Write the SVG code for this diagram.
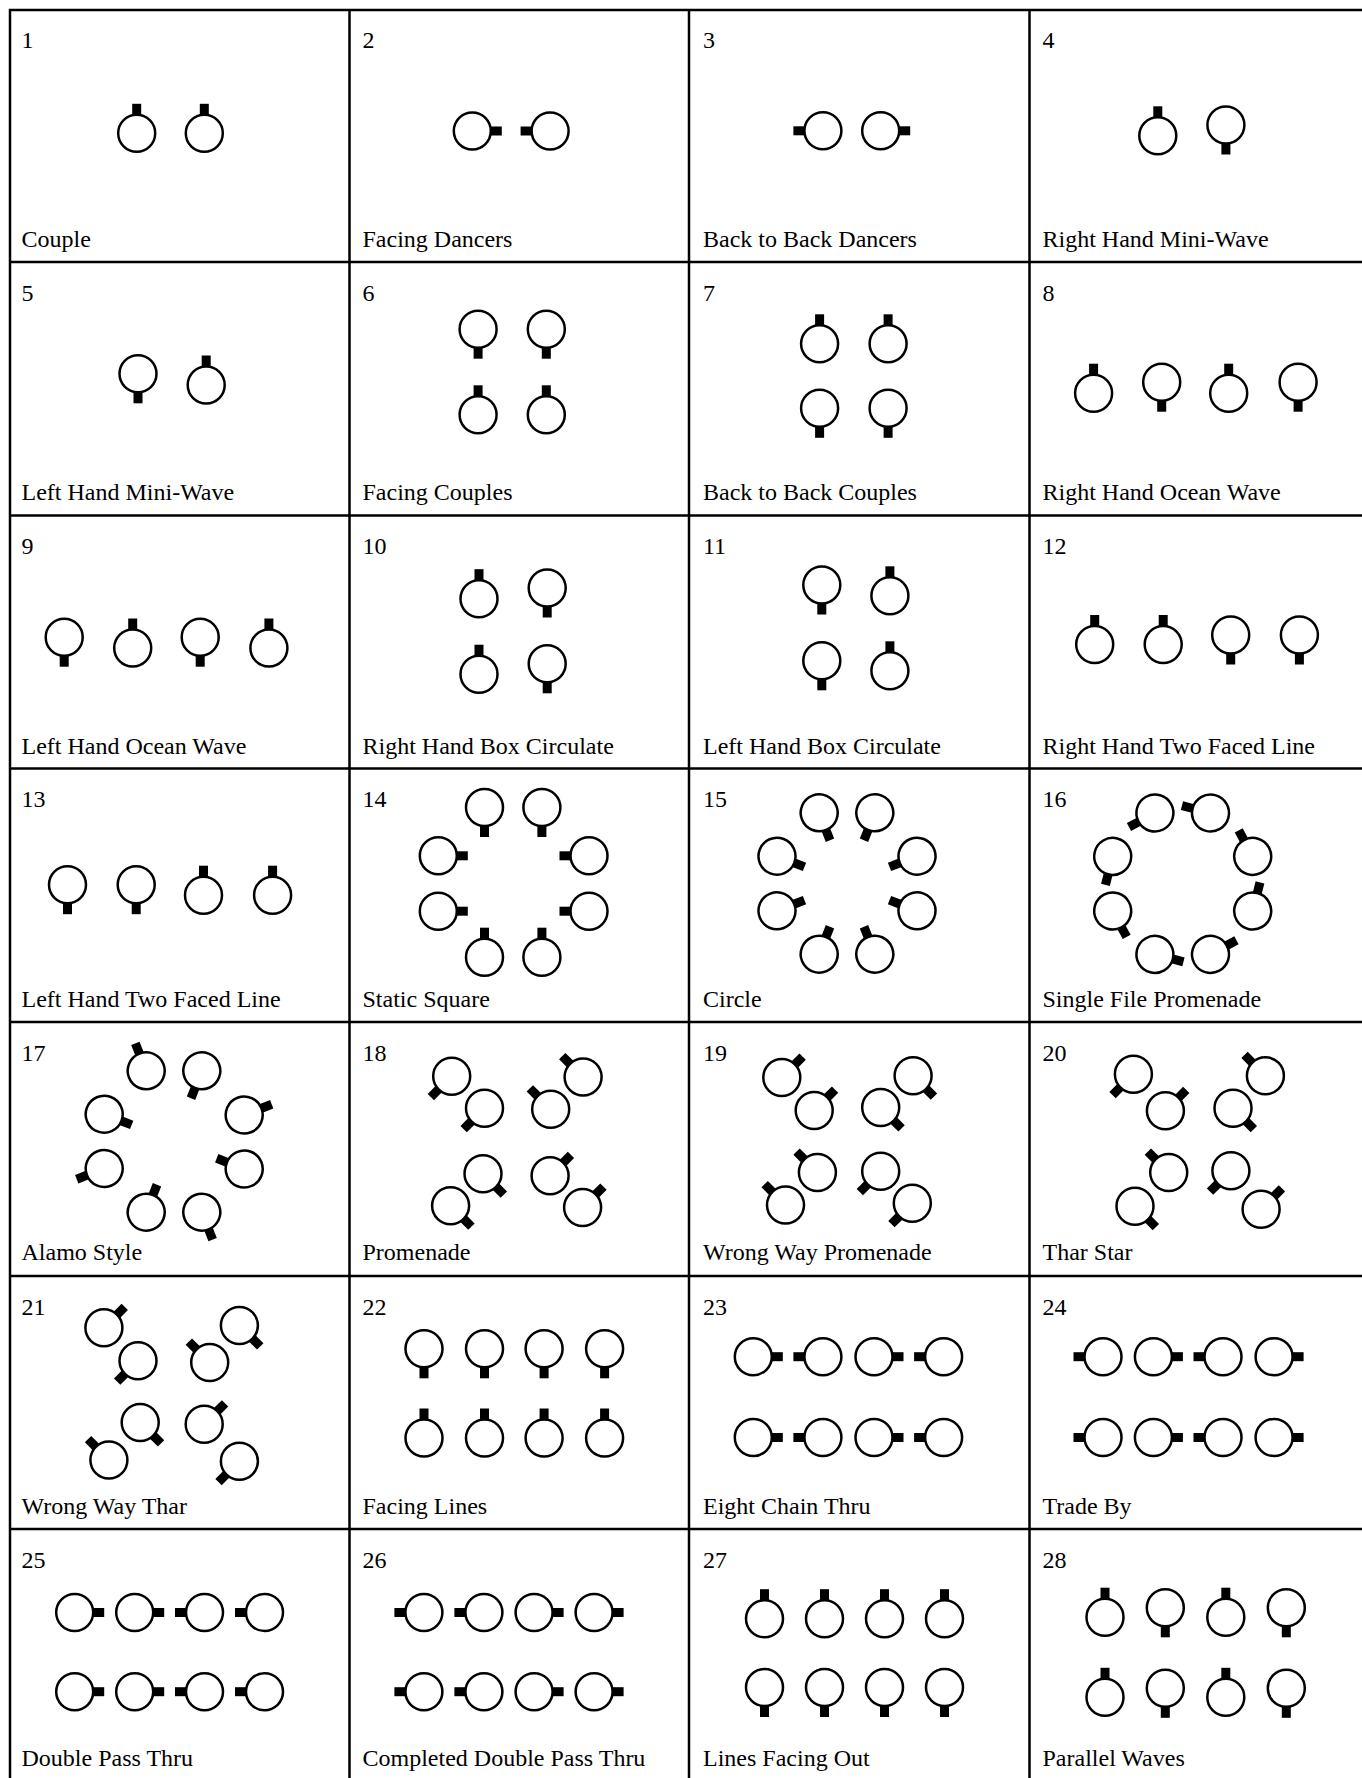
<svg xmlns="http://www.w3.org/2000/svg" width="1362" height="1778" viewBox="0 0 1362 1778">
<style>
text{font-family:"Liberation Serif","Times New Roman",serif;font-size:24px;fill:#000}
.grid{fill:none;stroke:#000;stroke-width:2.5}
</style>
<defs>
<g id="dn"><rect x="-4.5" y="-29.5" width="9" height="11.5" fill="#000"/><circle r="18.5" fill="none" stroke="#000" stroke-width="2.5"/></g>
</defs>
<rect width="1362" height="1778" fill="#fff"/>
<g id="connectors" class="grid">
<path d="M8.75 10H1362M8.75 262H1362M8.75 515.5H1362M8.75 768.5H1362M8.75 1022H1362M8.75 1276H1362M8.75 1529H1362M10 8.75V1778M349.5 8.75V1778M689 8.75V1778M1029.5 8.75V1778"/>
</g>
<g id="cell1"><text x="21.5" y="48">1</text><text x="21.5" y="247">Couple</text>
<use href="#dn" transform="translate(136.7 133.3)"/><use href="#dn" transform="translate(204.3 133.3)"/></g>
<g id="cell2"><text x="362.5" y="48">2</text><text x="362.5" y="247">Facing Dancers</text>
<use href="#dn" transform="translate(472.3 131) rotate(90)"/><use href="#dn" transform="translate(550.1 131) rotate(-90)"/></g>
<g id="cell3"><text x="703" y="48">3</text><text x="703" y="247">Back to Back Dancers</text>
<use href="#dn" transform="translate(822.9 130.8) rotate(-90)"/><use href="#dn" transform="translate(880.7 130.8) rotate(90)"/></g>
<g id="cell4"><text x="1042.5" y="48">4</text><text x="1042.5" y="247">Right Hand Mini-Wave</text>
<use href="#dn" transform="translate(1157.8 135.8)"/><use href="#dn" transform="translate(1225.9 125) rotate(180)"/></g>
<g id="cell5"><text x="21.5" y="300.5">5</text><text x="21.5" y="500">Left Hand Mini-Wave</text>
<use href="#dn" transform="translate(138 373.8) rotate(180)"/><use href="#dn" transform="translate(206.2 385)"/></g>
<g id="cell6"><text x="362.5" y="300.5">6</text><text x="362.5" y="500">Facing Couples</text>
<use href="#dn" transform="translate(478.1 329.2) rotate(180)"/><use href="#dn" transform="translate(546.3 329.2) rotate(180)"/><use href="#dn" transform="translate(478.1 414.8)"/><use href="#dn" transform="translate(546.3 414.8)"/></g>
<g id="cell7"><text x="703" y="300.5">7</text><text x="703" y="500">Back to Back Couples</text>
<use href="#dn" transform="translate(819.6 343.8)"/><use href="#dn" transform="translate(888.1 343.8)"/><use href="#dn" transform="translate(819.6 408.3) rotate(180)"/><use href="#dn" transform="translate(888.1 408.3) rotate(180)"/></g>
<g id="cell8"><text x="1042.5" y="300.5">8</text><text x="1042.5" y="500">Right Hand Ocean Wave</text>
<use href="#dn" transform="translate(1093.6 393.2)"/><use href="#dn" transform="translate(1161.7 382.2) rotate(180)"/><use href="#dn" transform="translate(1228.7 393.2)"/><use href="#dn" transform="translate(1298.1 382.2) rotate(180)"/></g>
<g id="cell9"><text x="21.5" y="554">9</text><text x="21.5" y="753.5">Left Hand Ocean Wave</text>
<use href="#dn" transform="translate(64.2 637.2) rotate(180)"/><use href="#dn" transform="translate(132.7 648)"/><use href="#dn" transform="translate(200.2 637.2) rotate(180)"/><use href="#dn" transform="translate(268.9 648)"/></g>
<g id="cell10"><text x="362.5" y="554">10</text><text x="362.5" y="753.5">Right Hand Box Circulate</text>
<use href="#dn" transform="translate(479 598.7)"/><use href="#dn" transform="translate(547.2 588) rotate(180)"/><use href="#dn" transform="translate(479 674.2)"/><use href="#dn" transform="translate(547.2 663.8) rotate(180)"/></g>
<g id="cell11"><text x="703" y="554">11</text><text x="703" y="753.5">Left Hand Box Circulate</text>
<use href="#dn" transform="translate(821.8 585) rotate(180)"/><use href="#dn" transform="translate(889.9 595.8)"/><use href="#dn" transform="translate(821.8 660.8) rotate(180)"/><use href="#dn" transform="translate(889.9 670.8)"/></g>
<g id="cell12"><text x="1042.5" y="554">12</text><text x="1042.5" y="753.5">Right Hand Two Faced Line</text>
<use href="#dn" transform="translate(1094.7 644.5)"/><use href="#dn" transform="translate(1163.2 644.5)"/><use href="#dn" transform="translate(1230.7 635) rotate(180)"/><use href="#dn" transform="translate(1299.4 635) rotate(180)"/></g>
<g id="cell13"><text x="21.5" y="807">13</text><text x="21.5" y="1006.5">Left Hand Two Faced Line</text>
<use href="#dn" transform="translate(67.5 884.7) rotate(180)"/><use href="#dn" transform="translate(136.2 884.7) rotate(180)"/><use href="#dn" transform="translate(203.5 895.2)"/><use href="#dn" transform="translate(272.6 895.2)"/></g>
<g id="cell14"><text x="362.5" y="807">14</text><text x="362.5" y="1006.5">Static Square</text>
<use href="#dn" transform="translate(484.5 807.5) rotate(180)"/><use href="#dn" transform="translate(541.9 807.5) rotate(180)"/>
<use href="#dn" transform="translate(438.3 855.8) rotate(90)"/><use href="#dn" transform="translate(438.3 911.2) rotate(90)"/>
<use href="#dn" transform="translate(589 855.8) rotate(-90)"/><use href="#dn" transform="translate(589 911.2) rotate(-90)"/>
<use href="#dn" transform="translate(484.5 957.2)"/><use href="#dn" transform="translate(541.9 957.2)"/></g>
<g id="cell15"><text x="703" y="807">15</text><text x="703" y="1006.5">Circle</text>
<use href="#dn" transform="translate(819.2 812.8) rotate(158.5)"/><use href="#dn" transform="translate(874.8 812.8) rotate(201.5)"/>
<use href="#dn" transform="translate(917 856.2) rotate(248.7)"/><use href="#dn" transform="translate(917 910.8) rotate(-68.7)"/>
<use href="#dn" transform="translate(874.8 954.2) rotate(-21.5)"/><use href="#dn" transform="translate(819.2 954.2) rotate(21.5)"/>
<use href="#dn" transform="translate(777 910.8) rotate(68.7)"/><use href="#dn" transform="translate(777 856.2) rotate(111.3)"/></g>
<g id="cell16"><text x="1042.5" y="807">16</text><text x="1042.5" y="1006.5">Single File Promenade</text>
<use href="#dn" transform="translate(1154.9 813) rotate(-118.5)"/><use href="#dn" transform="translate(1210.5 813) rotate(-75.5)"/>
<use href="#dn" transform="translate(1252.7 856.4) rotate(-28.3)"/><use href="#dn" transform="translate(1252.7 911) rotate(14.3)"/>
<use href="#dn" transform="translate(1210.5 954.4) rotate(61.5)"/><use href="#dn" transform="translate(1154.9 954.4) rotate(104.5)"/>
<use href="#dn" transform="translate(1112.7 911) rotate(151.7)"/><use href="#dn" transform="translate(1112.7 856.4) rotate(-165.7)"/></g>
<g id="cell17"><text x="21.5" y="1060.5">17</text><text x="21.5" y="1260">Alamo Style</text>
<use href="#dn" transform="translate(146.2 1070.8) rotate(-21.5)"/><use href="#dn" transform="translate(201.8 1070.8) rotate(201.5)"/>
<use href="#dn" transform="translate(244.2 1115) rotate(68.7)"/><use href="#dn" transform="translate(244.2 1169) rotate(291.3)"/>
<use href="#dn" transform="translate(201.8 1212.2) rotate(158.5)"/><use href="#dn" transform="translate(146.2 1212.2) rotate(21.5)"/>
<use href="#dn" transform="translate(104.2 1168.5) rotate(248.7)"/><use href="#dn" transform="translate(104.2 1114.2) rotate(111.3)"/></g>
<g id="cell18"><text x="362.5" y="1060.5">18</text><text x="362.5" y="1260">Promenade</text>
<use href="#dn" transform="translate(451.7 1076.2) rotate(225)"/><use href="#dn" transform="translate(484.5 1108.3) rotate(225)"/>
<use href="#dn" transform="translate(583.1 1077) rotate(315)"/><use href="#dn" transform="translate(550.7 1109.2) rotate(315)"/>
<use href="#dn" transform="translate(483 1173.8) rotate(135)"/><use href="#dn" transform="translate(450.6 1205.8) rotate(135)"/>
<use href="#dn" transform="translate(550.1 1175.8) rotate(45)"/><use href="#dn" transform="translate(582.6 1207.5) rotate(45)"/></g>
<g id="cell19"><text x="703" y="1060.5">19</text><text x="703" y="1260">Wrong Way Promenade</text>
<use href="#dn" transform="translate(781.8 1077.5) rotate(45)"/><use href="#dn" transform="translate(814.2 1110.5) rotate(45)"/>
<use href="#dn" transform="translate(913.1 1075.8) rotate(135)"/><use href="#dn" transform="translate(880.7 1107.5) rotate(135)"/>
<use href="#dn" transform="translate(817.4 1172.5) rotate(315)"/><use href="#dn" transform="translate(785.5 1205) rotate(315)"/>
<use href="#dn" transform="translate(880.7 1171.2) rotate(225)"/><use href="#dn" transform="translate(912.3 1203.3) rotate(225)"/></g>
<g id="cell20"><text x="1042.5" y="1060.5">20</text><text x="1042.5" y="1260">Thar Star</text>
<use href="#dn" transform="translate(1133.4 1074.2) rotate(225)"/><use href="#dn" transform="translate(1165.4 1110.8) rotate(45)"/>
<use href="#dn" transform="translate(1265.4 1075.8) rotate(315)"/><use href="#dn" transform="translate(1233 1108.2) rotate(135)"/>
<use href="#dn" transform="translate(1168.7 1172.5) rotate(315)"/><use href="#dn" transform="translate(1135 1206.2) rotate(135)"/>
<use href="#dn" transform="translate(1230.9 1170.8) rotate(225)"/><use href="#dn" transform="translate(1261.1 1209.2) rotate(45)"/></g>
<g id="cell21"><text x="21.5" y="1314.5">21</text><text x="21.5" y="1513.5">Wrong Way Thar</text>
<use href="#dn" transform="translate(103.9 1327.8) rotate(45)"/><use href="#dn" transform="translate(138 1360.8) rotate(225)"/>
<use href="#dn" transform="translate(239.4 1325.5) rotate(135)"/><use href="#dn" transform="translate(209.7 1362.5) rotate(315)"/>
<use href="#dn" transform="translate(140.2 1422.5) rotate(135)"/><use href="#dn" transform="translate(108.9 1460) rotate(315)"/>
<use href="#dn" transform="translate(204.2 1424.2) rotate(45)"/><use href="#dn" transform="translate(239.4 1461.2) rotate(225)"/></g>
<g id="cell22"><text x="362.5" y="1314.5">22</text><text x="362.5" y="1513.5">Facing Lines</text>
<use href="#dn" transform="translate(424 1348.8) rotate(180)"/><use href="#dn" transform="translate(484.5 1348.8) rotate(180)"/><use href="#dn" transform="translate(544.1 1348.8) rotate(180)"/><use href="#dn" transform="translate(604.6 1348.8) rotate(180)"/>
<use href="#dn" transform="translate(424 1438)"/><use href="#dn" transform="translate(484.5 1438)"/><use href="#dn" transform="translate(544.1 1438)"/><use href="#dn" transform="translate(604.6 1438)"/></g>
<g id="cell23"><text x="703" y="1314.5">23</text><text x="703" y="1513.5">Eight Chain Thru</text>
<use href="#dn" transform="translate(753.3 1356.7) rotate(90)"/><use href="#dn" transform="translate(822.9 1356.7) rotate(-90)"/><use href="#dn" transform="translate(874 1356.7) rotate(90)"/><use href="#dn" transform="translate(943.6 1356.7) rotate(-90)"/>
<use href="#dn" transform="translate(753.3 1437.5) rotate(90)"/><use href="#dn" transform="translate(822.9 1437.5) rotate(-90)"/><use href="#dn" transform="translate(874 1437.5) rotate(90)"/><use href="#dn" transform="translate(943.6 1437.5) rotate(-90)"/></g>
<g id="cell24"><text x="1042.5" y="1314.5">24</text><text x="1042.5" y="1513.5">Trade By</text>
<use href="#dn" transform="translate(1103 1356.7) rotate(-90)"/><use href="#dn" transform="translate(1153.4 1356.7) rotate(90)"/><use href="#dn" transform="translate(1223 1356.7) rotate(-90)"/><use href="#dn" transform="translate(1274.1 1356.7) rotate(90)"/>
<use href="#dn" transform="translate(1103 1437.5) rotate(-90)"/><use href="#dn" transform="translate(1153.4 1437.5) rotate(90)"/><use href="#dn" transform="translate(1223 1437.5) rotate(-90)"/><use href="#dn" transform="translate(1274.1 1437.5) rotate(90)"/></g>
<g id="cell25"><text x="21.5" y="1567.5">25</text><text x="21.5" y="1766">Double Pass Thru</text>
<use href="#dn" transform="translate(74.7 1612.5) rotate(90)"/><use href="#dn" transform="translate(134.7 1612.5) rotate(90)"/><use href="#dn" transform="translate(204.5 1612.5) rotate(-90)"/><use href="#dn" transform="translate(264.5 1612.5) rotate(-90)"/>
<use href="#dn" transform="translate(74.7 1691.7) rotate(90)"/><use href="#dn" transform="translate(134.7 1691.7) rotate(90)"/><use href="#dn" transform="translate(204.5 1691.7) rotate(-90)"/><use href="#dn" transform="translate(264.5 1691.7) rotate(-90)"/></g>
<g id="cell26"><text x="362.5" y="1567.5">26</text><text x="362.5" y="1766">Completed Double Pass Thru</text>
<use href="#dn" transform="translate(423.9 1612.5) rotate(-90)"/><use href="#dn" transform="translate(483.9 1612.5) rotate(-90)"/><use href="#dn" transform="translate(534.1 1612.5) rotate(90)"/><use href="#dn" transform="translate(594.1 1612.5) rotate(90)"/>
<use href="#dn" transform="translate(423.9 1691.7) rotate(-90)"/><use href="#dn" transform="translate(483.9 1691.7) rotate(-90)"/><use href="#dn" transform="translate(534.1 1691.7) rotate(90)"/><use href="#dn" transform="translate(594.1 1691.7) rotate(90)"/></g>
<g id="cell27"><text x="703" y="1567.5">27</text><text x="703" y="1766">Lines Facing Out</text>
<use href="#dn" transform="translate(764.5 1618.7)"/><use href="#dn" transform="translate(824.5 1618.7)"/><use href="#dn" transform="translate(884.5 1618.7)"/><use href="#dn" transform="translate(944.5 1618.7)"/>
<use href="#dn" transform="translate(764.5 1687.5) rotate(180)"/><use href="#dn" transform="translate(824.5 1687.5) rotate(180)"/><use href="#dn" transform="translate(884.5 1687.5) rotate(180)"/><use href="#dn" transform="translate(944.5 1687.5) rotate(180)"/></g>
<g id="cell28"><text x="1042.5" y="1567.5">28</text><text x="1042.5" y="1766">Parallel Waves</text>
<use href="#dn" transform="translate(1105 1617.2)"/><use href="#dn" transform="translate(1165.3 1607.8) rotate(180)"/><use href="#dn" transform="translate(1225.8 1617.2)"/><use href="#dn" transform="translate(1286.3 1607.8) rotate(180)"/>
<use href="#dn" transform="translate(1105 1697.3)"/><use href="#dn" transform="translate(1165.3 1688.3) rotate(180)"/><use href="#dn" transform="translate(1225.8 1697.3)"/><use href="#dn" transform="translate(1286.3 1688.3) rotate(180)"/></g>
</svg>
